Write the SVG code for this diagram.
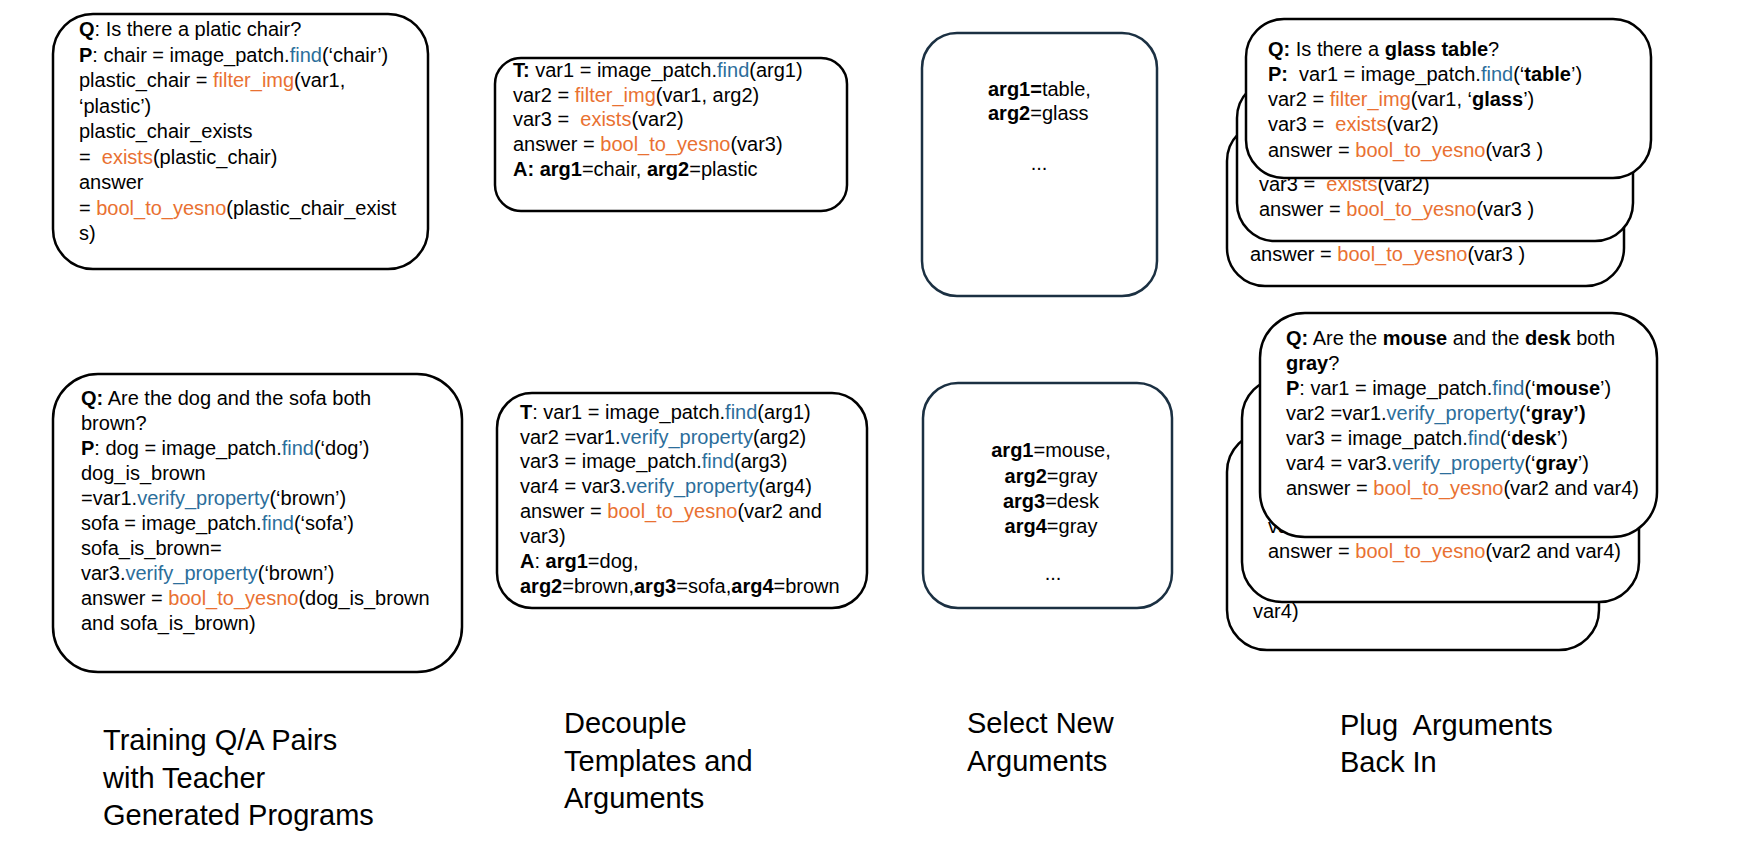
<svg xmlns="http://www.w3.org/2000/svg" width="1752" height="844" viewBox="0 0 1752 844" xml:space="preserve">
<style>
.t { font-family: "Liberation Sans", Arial, sans-serif; font-size: 20px; fill: #000; white-space: pre; }
.b { font-weight: bold; }
.o { fill: #E97132; }
.bl { fill: #2C6E9B; }
.card { fill: #fff; stroke: #000; stroke-width: 2.5; }
.argbox { fill: #fff; stroke: #1B3042; stroke-width: 2.5; }
.lbl { font-family: "Liberation Sans", Arial, sans-serif; font-size: 29px; fill: #000; white-space: pre; }
.c { text-anchor: middle; }
</style>
<rect width="1752" height="844" fill="#fff"/>
<g id="connectors"></g>
<g id="train-qa-1">
<rect class="card" x="53" y="14" width="375" height="255" rx="40"/>
<text class="t" x="79" y="36"><tspan class="b">Q</tspan>: Is there a platic chair?</text>
<text class="t" x="79" y="61.5"><tspan class="b">P</tspan>: chair = image_patch.<tspan class="bl">find</tspan>(‘chair’)</text>
<text class="t" x="79" y="87">plastic_chair = <tspan class="o">filter_img</tspan>(var1,</text>
<text class="t" x="79" y="112.5">‘plastic’)</text>
<text class="t" x="79" y="138">plastic_chair_exists</text>
<text class="t" x="79" y="163.5">=  <tspan class="o">exists</tspan>(plastic_chair)</text>
<text class="t" x="79" y="189">answer</text>
<text class="t" x="79" y="214.5">= <tspan class="o">bool_to_yesno</tspan>(plastic_chair_exist</text>
<text class="t" x="79" y="240">s)</text>
</g>
<g id="template-1">
<rect class="card" x="495" y="58" width="352" height="153" rx="26"/>
<text class="t" x="513" y="77"><tspan class="b">T:</tspan> var1 = image_patch.<tspan class="bl">find</tspan>(arg1)</text>
<text class="t" x="513" y="102">var2 = <tspan class="o">filter_img</tspan>(var1, arg2)</text>
<text class="t" x="513" y="126">var3 =  <tspan class="o">exists</tspan>(var2)</text>
<text class="t" x="513" y="151">answer = <tspan class="o">bool_to_yesno</tspan>(var3)</text>
<text class="t" x="513" y="176"><tspan class="b">A: arg1</tspan>=chair, <tspan class="b">arg2</tspan>=plastic</text>
</g>
<g id="args-1">
<rect class="argbox" x="922" y="33" width="235" height="263" rx="35"/>
<text class="t" x="988" y="96"><tspan class="b">arg1=</tspan>table,</text>
<text class="t" x="988" y="120"><tspan class="b">arg2</tspan>=glass</text>
<text class="t c" x="1039" y="170">...</text>
</g>
<g id="plug-1">
<rect class="card" x="1227" y="123" width="397" height="163" rx="38"/>
<text class="t" x="1250" y="261">answer = <tspan class="o">bool_to_yesno</tspan>(var3 )</text>
<rect class="card" x="1237" y="80" width="396" height="161" rx="38"/>
<text class="t" x="1259" y="191">var3 =  <tspan class="o">exists</tspan>(var2)</text>
<text class="t" x="1259" y="216">answer = <tspan class="o">bool_to_yesno</tspan>(var3 )</text>
<rect class="card" x="1246" y="19" width="405" height="159" rx="38"/>
<text class="t" x="1268" y="56"><tspan class="b">Q:</tspan> Is there a <tspan class="b">glass table</tspan>?</text>
<text class="t" x="1268" y="81"><tspan class="b">P:</tspan>  var1 = image_patch.<tspan class="bl">find</tspan>(‘<tspan class="b">table</tspan>’)</text>
<text class="t" x="1268" y="106">var2 = <tspan class="o">filter_img</tspan>(var1, ‘<tspan class="b">glass</tspan>’)</text>
<text class="t" x="1268" y="131">var3 =  <tspan class="o">exists</tspan>(var2)</text>
<text class="t" x="1268" y="157">answer = <tspan class="o">bool_to_yesno</tspan>(var3 )</text>
</g>
<g id="train-qa-2">
<rect class="card" x="53" y="374" width="409" height="298" rx="45"/>
<text class="t" x="81" y="405"><tspan class="b">Q:</tspan> Are the dog and the sofa both</text>
<text class="t" x="81" y="430">brown?</text>
<text class="t" x="81" y="455"><tspan class="b">P</tspan>: dog = image_patch.<tspan class="bl">find</tspan>(‘dog’)</text>
<text class="t" x="81" y="480">dog_is_brown</text>
<text class="t" x="81" y="505">=var1.<tspan class="bl">verify_property</tspan>(‘brown’)</text>
<text class="t" x="81" y="530">sofa = image_patch.<tspan class="bl">find</tspan>(‘sofa’)</text>
<text class="t" x="81" y="555">sofa_is_brown=</text>
<text class="t" x="81" y="580">var3.<tspan class="bl">verify_property</tspan>(‘brown’)</text>
<text class="t" x="81" y="605">answer = <tspan class="o">bool_to_yesno</tspan>(dog_is_brown</text>
<text class="t" x="81" y="630">and sofa_is_brown)</text>
</g>
<g id="template-2">
<rect class="card" x="497" y="393" width="370" height="215" rx="35"/>
<text class="t" x="520" y="419"><tspan class="b">T</tspan>: var1 = image_patch.<tspan class="bl">find</tspan>(arg1)</text>
<text class="t" x="520" y="444">var2 =var1.<tspan class="bl">verify_property</tspan>(arg2)</text>
<text class="t" x="520" y="468">var3 = image_patch.<tspan class="bl">find</tspan>(arg3)</text>
<text class="t" x="520" y="493">var4 = var3.<tspan class="bl">verify_property</tspan>(arg4)</text>
<text class="t" x="520" y="518">answer = <tspan class="o">bool_to_yesno</tspan>(var2 and</text>
<text class="t" x="520" y="543">var3)</text>
<text class="t" x="520" y="568"><tspan class="b">A</tspan>: <tspan class="b">arg1</tspan>=dog,</text>
<text class="t" x="520" y="593"><tspan class="b">arg2</tspan>=brown,<tspan class="b">arg3</tspan>=sofa,<tspan class="b">arg4</tspan>=brown</text>
</g>
<g id="args-2">
<rect class="argbox" x="923" y="383" width="249" height="225" rx="35"/>
<text class="t c" x="1051" y="457"><tspan class="b">arg1</tspan>=mouse,</text>
<text class="t c" x="1051" y="483"><tspan class="b">arg2</tspan>=gray</text>
<text class="t c" x="1051" y="508"><tspan class="b">arg3</tspan>=desk</text>
<text class="t c" x="1051" y="533"><tspan class="b">arg4</tspan>=gray</text>
<text class="t c" x="1053" y="580">...</text>
</g>
<g id="plug-2">
<rect class="card" x="1227" y="432" width="372" height="218" rx="40"/>
<text class="t" x="1253" y="618">var4)</text>
<rect class="card" x="1242" y="378" width="397" height="224" rx="40"/>
<text class="t" x="1268" y="533">var4 = var3.<tspan class="bl">verify_property</tspan>(‘<tspan class="b">gray</tspan>’)</text>
<text class="t" x="1268" y="558">answer = <tspan class="o">bool_to_yesno</tspan>(var2 and var4)</text>
<rect class="card" x="1260" y="313" width="397" height="224" rx="45"/>
<text class="t" x="1286" y="345"><tspan class="b">Q:</tspan> Are the <tspan class="b">mouse</tspan> and the <tspan class="b">desk</tspan> both</text>
<text class="t" x="1286" y="370"><tspan class="b">gray</tspan>?</text>
<text class="t" x="1286" y="395"><tspan class="b">P</tspan>: var1 = image_patch.<tspan class="bl">find</tspan>(‘<tspan class="b">mouse</tspan>’)</text>
<text class="t" x="1286" y="420">var2 =var1.<tspan class="bl">verify_property</tspan>(<tspan class="b">‘gray’)</tspan></text>
<text class="t" x="1286" y="445">var3 = image_patch.<tspan class="bl">find</tspan>(‘<tspan class="b">desk</tspan>’)</text>
<text class="t" x="1286" y="470">var4 = var3.<tspan class="bl">verify_property</tspan>(‘<tspan class="b">gray</tspan>’)</text>
<text class="t" x="1286" y="495">answer = <tspan class="o">bool_to_yesno</tspan>(var2 and var4)</text>
</g>
<g id="label-1">
<text class="lbl" x="103" y="750">Training Q/A Pairs</text>
<text class="lbl" x="103" y="787.5">with Teacher</text>
<text class="lbl" x="103" y="825">Generated Programs</text>
</g>
<g id="label-2">
<text class="lbl" x="564" y="733">Decouple</text>
<text class="lbl" x="564" y="770.5">Templates and</text>
<text class="lbl" x="564" y="808">Arguments</text>
</g>
<g id="label-3">
<text class="lbl" x="967" y="733">Select New</text>
<text class="lbl" x="967" y="770.5">Arguments</text>
</g>
<g id="label-4">
<text class="lbl" x="1340" y="735">Plug  Arguments</text>
<text class="lbl" x="1340" y="772">Back In</text>
</g>
</svg>
